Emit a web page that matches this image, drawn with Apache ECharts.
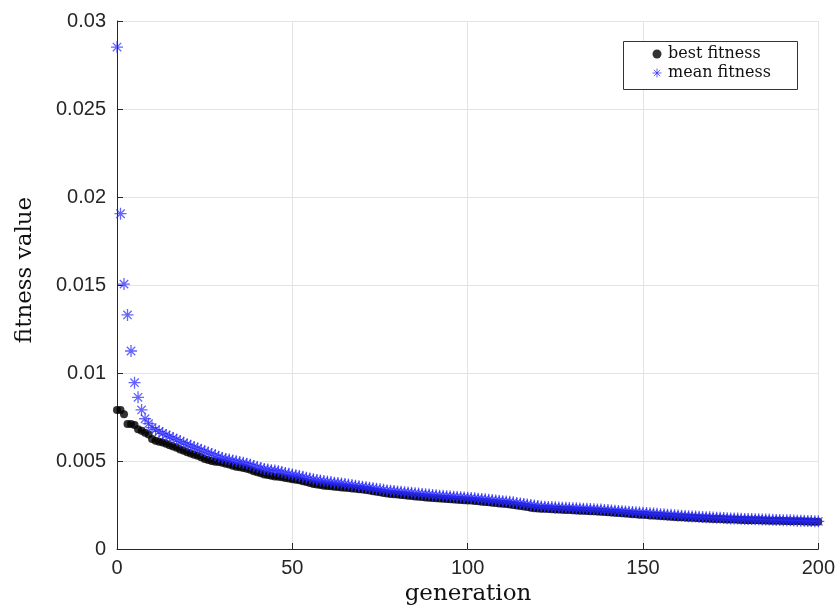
<!DOCTYPE html>
<html>
<head>
<meta charset="utf-8">
<script src="https://cdn.jsdelivr.net/npm/echarts@6/dist/echarts.min.js"></script>
<style>
  html, body { margin: 0; padding: 0; background: #fff; }
  #chart { width: 838px; height: 610px; }
</style>
</head>
<body>
<div id="chart"></div>
<script>
// Generations 0..200 of the genetic algorithm run
const generations = Array.from({ length: 201 }, (_, i) => i);

// Best individual fitness per generation
const bestFitness = [
  0.00790, 0.00790, 0.00765, 0.00710, 0.00710, 0.00705, 0.00680, 0.00672, 0.00660, 0.00650,
  0.00625, 0.00615, 0.00610, 0.00605, 0.00598, 0.00590, 0.00582, 0.00575, 0.00566, 0.00558,
  0.00550, 0.00543, 0.00536, 0.00530, 0.00522, 0.00512, 0.00505, 0.00500, 0.00496, 0.00494,
  0.00490, 0.00485, 0.00480, 0.00473, 0.00468, 0.00464, 0.00460, 0.00456, 0.00450, 0.00442,
  0.00436, 0.00430, 0.00424, 0.00420, 0.00416, 0.00412, 0.00410, 0.00407, 0.00404, 0.00400,
  0.00396, 0.00393, 0.00390, 0.00385, 0.00380, 0.00375, 0.00370, 0.00366, 0.00363, 0.00360,
  0.00358, 0.00356, 0.00354, 0.00352, 0.00350, 0.00348, 0.00346, 0.00344, 0.00342, 0.00340,
  0.00338, 0.00335, 0.00332, 0.00328, 0.00325, 0.00322, 0.00318, 0.00315, 0.00313, 0.00311,
  0.00309, 0.00307, 0.00305, 0.00303, 0.00301, 0.00299, 0.00297, 0.00295, 0.00293, 0.00291,
  0.00290, 0.00288, 0.00287, 0.00285, 0.00284, 0.00282, 0.00281, 0.00280, 0.00278, 0.00277,
  0.00276, 0.00275, 0.00273, 0.00271, 0.00269, 0.00267, 0.00265, 0.00263, 0.00261, 0.00259,
  0.00257, 0.00255, 0.00253, 0.00250, 0.00247, 0.00244, 0.00241, 0.00238, 0.00235, 0.00232,
  0.00230, 0.00229, 0.00228, 0.00227, 0.00226, 0.00225, 0.00224, 0.00223, 0.00222, 0.00221,
  0.00220, 0.00219, 0.00218, 0.00217, 0.00216, 0.00215, 0.00214, 0.00213, 0.00212, 0.00210,
  0.00209, 0.00207, 0.00206, 0.00204, 0.00203, 0.00201, 0.00200, 0.00198, 0.00197, 0.00195,
  0.00194, 0.00193, 0.00191, 0.00190, 0.00189, 0.00187, 0.00186, 0.00185, 0.00183, 0.00182,
  0.00181, 0.00180, 0.00179, 0.00178, 0.00177, 0.00176, 0.00175, 0.00174, 0.00173, 0.00172,
  0.00171, 0.00170, 0.00170, 0.00169, 0.00168, 0.00167, 0.00167, 0.00166, 0.00165, 0.00165,
  0.00164, 0.00164, 0.00163, 0.00163, 0.00162, 0.00162, 0.00161, 0.00161, 0.00160, 0.00160,
  0.00159, 0.00159, 0.00158, 0.00158, 0.00157, 0.00157, 0.00156, 0.00156, 0.00155, 0.00155,
  0.00155
];

// Mean population fitness per generation
const meanFitness = [
  0.02852, 0.01905, 0.01505, 0.01330, 0.01125, 0.00945, 0.00862, 0.00790, 0.00740, 0.00712,
  0.00690, 0.00678, 0.00668, 0.00657, 0.00648, 0.00638, 0.00630, 0.00621, 0.00612, 0.00603,
  0.00594, 0.00586, 0.00579, 0.00571, 0.00563, 0.00555, 0.00548, 0.00540, 0.00532, 0.00524,
  0.00517, 0.00512, 0.00508, 0.00503, 0.00498, 0.00494, 0.00490, 0.00485, 0.00479, 0.00472,
  0.00466, 0.00460, 0.00455, 0.00451, 0.00448, 0.00446, 0.00442, 0.00437, 0.00432, 0.00427,
  0.00423, 0.00419, 0.00415, 0.00410, 0.00405, 0.00400, 0.00396, 0.00392, 0.00389, 0.00386,
  0.00383, 0.00380, 0.00377, 0.00375, 0.00372, 0.00369, 0.00366, 0.00363, 0.00360, 0.00357,
  0.00354, 0.00351, 0.00348, 0.00345, 0.00342, 0.00339, 0.00336, 0.00333, 0.00331, 0.00329,
  0.00327, 0.00325, 0.00323, 0.00321, 0.00319, 0.00317, 0.00315, 0.00313, 0.00311, 0.00309,
  0.00307, 0.00305, 0.00303, 0.00302, 0.00300, 0.00299, 0.00297, 0.00296, 0.00294, 0.00293,
  0.00291, 0.00290, 0.00288, 0.00286, 0.00284, 0.00282, 0.00280, 0.00278, 0.00276, 0.00274,
  0.00272, 0.00270, 0.00268, 0.00265, 0.00262, 0.00259, 0.00256, 0.00253, 0.00250, 0.00247,
  0.00244, 0.00242, 0.00240, 0.00239, 0.00238, 0.00237, 0.00236, 0.00235, 0.00234, 0.00233,
  0.00232, 0.00231, 0.00230, 0.00229, 0.00228, 0.00227, 0.00226, 0.00225, 0.00224, 0.00222,
  0.00221, 0.00219, 0.00218, 0.00216, 0.00215, 0.00213, 0.00212, 0.00210, 0.00209, 0.00207,
  0.00206, 0.00204, 0.00203, 0.00201, 0.00200, 0.00198, 0.00197, 0.00195, 0.00194, 0.00192,
  0.00191, 0.00189, 0.00188, 0.00186, 0.00185, 0.00184, 0.00183, 0.00182, 0.00181, 0.00180,
  0.00179, 0.00178, 0.00177, 0.00176, 0.00175, 0.00174, 0.00173, 0.00173, 0.00172, 0.00171,
  0.00171, 0.00170, 0.00169, 0.00169, 0.00168, 0.00167, 0.00167, 0.00166, 0.00165, 0.00165,
  0.00164, 0.00163, 0.00163, 0.00162, 0.00161, 0.00161, 0.00160, 0.00159, 0.00159, 0.00158,
  0.00157
];

const seriesNames = ['best fitness', 'mean fitness'];
const xTicks = [0, 50, 100, 150, 200];
const yTicks = [0, 0.005, 0.01, 0.015, 0.02, 0.025, 0.03];

// Asterisk marker drawn as stroked spokes
const asterisk = 'path://M0,-10L0,10M-10,0L10,0M-7,-7L7,7M-7,7L7,-7';
const starBlue = 'rgba(40,40,255,0.9)';

const chart = echarts.init(document.getElementById('chart'), null, { renderer: 'canvas' });

const axisFont = { fontFamily: 'Liberation Sans, Arial, sans-serif', fontSize: 20, color: '#262626' };
const titleFont = 'DejaVu Serif, serif';

chart.setOption({
  animation: false,
  backgroundColor: '#ffffff',
  grid: { left: 117, right: 18, top: 21, bottom: 61, containLabel: false },
  xAxis: {
    type: 'value',
    min: xTicks[0],
    max: xTicks[xTicks.length - 1],
    interval: 50,
    axisLine: { show: true, lineStyle: { color: '#262626', width: 1 } },
    axisTick: { show: true, inside: true, length: 6, lineStyle: { color: '#262626' } },
    axisLabel: Object.assign({ margin: 9 }, axisFont),
    splitLine: { show: true, lineStyle: { color: '#e3e3e3', width: 1 } }
  },
  yAxis: {
    type: 'value',
    min: yTicks[0],
    max: yTicks[yTicks.length - 1],
    interval: 0.005,
    axisLine: { show: true, lineStyle: { color: '#262626', width: 1 } },
    axisTick: { show: true, inside: true, length: 6, lineStyle: { color: '#262626' } },
    axisLabel: Object.assign({ margin: 11, formatter: v => String(+v.toFixed(3)) }, axisFont),
    splitLine: { show: true, lineStyle: { color: '#e3e3e3', width: 1 } }
  },
  legend: {
    left: 652,
    top: 46,
    z: 20,
    orient: 'vertical',
    itemGap: 3,
    itemWidth: 12,
    itemHeight: 9,
    padding: 0,
    textStyle: { fontFamily: titleFont, fontSize: 16, color: '#111' },
    data: [
      { name: seriesNames[0], icon: 'circle', itemStyle: { color: '#000' } },
      { name: seriesNames[1], icon: asterisk, itemStyle: { color: starBlue, borderColor: starBlue, borderWidth: 1 } }
    ]
  },
  graphic: [
    {
      type: 'rect',
      left: 623, top: 41,
      shape: { width: 174, height: 48 },
      style: { fill: '#fff', stroke: '#333', lineWidth: 1 },
      z: 5
    },
    {
      type: 'text',
      x: 468,
      y: 594,
      style: { text: 'generation', font: '23px ' + titleFont, fill: '#111', align: 'center', verticalAlign: 'middle' }
    },
    {
      type: 'text',
      x: 25,
      y: 270,
      rotation: Math.PI / 2,
      style: { text: 'fitness value', font: '23px ' + titleFont, fill: '#111', align: 'center', verticalAlign: 'middle' }
    }
  ],
  series: [
    {
      name: seriesNames[0],
      type: 'scatter',
      symbol: 'circle',
      symbolSize: 8,
      itemStyle: { color: '#000' },
      data: generations.map((g, i) => [g, bestFitness[i]]),
      z: 2
    },
    {
      name: seriesNames[1],
      type: 'scatter',
      symbol: asterisk,
      symbolSize: 12,
      itemStyle: { color: starBlue, borderColor: starBlue, borderWidth: 1.3 },
      data: generations.map((g, i) => [g, meanFitness[i]]),
      z: 3
    }
  ]
});
</script>
</body>
</html>
